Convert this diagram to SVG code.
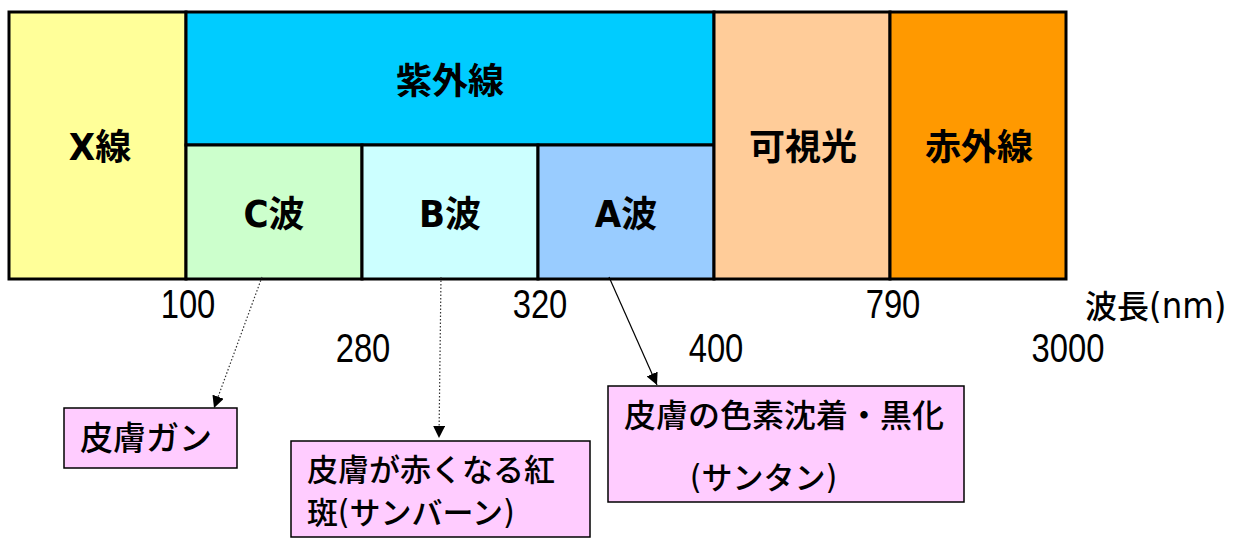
<svg xmlns="http://www.w3.org/2000/svg" width="1238" height="545" viewBox="0 0 1238 545">
<defs>
<style>
.cell{stroke:#000;stroke-width:3}
.lbl{font-family:'Noto Sans CJK JP',sans-serif;font-weight:bold;font-size:36px;text-anchor:middle;fill:#000}
.lat{font-family:'DejaVu Sans Condensed','Liberation Sans',sans-serif;font-size:38px}
.num{font-family:'Liberation Sans',sans-serif;font-size:40px;text-anchor:middle;fill:#000}
.box{fill:#FFCCFF;stroke:#000;stroke-width:1.5}
.btxt{font-family:'Noto Sans CJK JP',sans-serif;font-weight:500;font-size:31px;fill:#000}
.dot{stroke:#333;stroke-width:1.2;stroke-dasharray:1.5 2;fill:none}
.sol{stroke:#000;stroke-width:1.2;fill:none}
</style>
<marker id="ah" viewBox="0 0 10 10" refX="10" refY="5" markerWidth="12" markerHeight="12" markerUnits="userSpaceOnUse" orient="auto">
<path d="M0,0 L10,5 L0,10 z" fill="#000"/>
</marker>
</defs>
<rect width="1238" height="545" fill="#fff"/>
<g id="xray"><rect class="cell" x="9" y="12" width="177" height="267" fill="#FFFF99"/><text class="lbl" x="100" y="160"><tspan class="lat">X</tspan>線</text></g>
<g id="uv"><rect class="cell" x="186" y="12" width="528" height="133" fill="#00CCFF"/><text class="lbl" x="450" y="94">紫外線</text></g>
<g id="uvc"><rect class="cell" x="186" y="145" width="176" height="134" fill="#CCFFCC"/><text class="lbl" x="274" y="227"><tspan class="lat">C</tspan>波</text></g>
<g id="uvb"><rect class="cell" x="362" y="145" width="176" height="134" fill="#CCFFFF"/><text class="lbl" x="450" y="227"><tspan class="lat">B</tspan>波</text></g>
<g id="uva"><rect class="cell" x="538" y="145" width="176" height="134" fill="#99CCFF"/><text class="lbl" x="626" y="227"><tspan class="lat">A</tspan>波</text></g>
<g id="visible"><rect class="cell" x="714" y="12" width="176" height="267" fill="#FFCC99"/><text class="lbl" x="803" y="160">可視光</text></g>
<g id="ir"><rect class="cell" x="890" y="12" width="176" height="267" fill="#FF9900"/><text class="lbl" x="979" y="160">赤外線</text></g>
<g id="scale">
<text class="num" transform="translate(188,318) scale(0.82,1)">100</text>
<text class="num" transform="translate(363,362) scale(0.82,1)">280</text>
<text class="num" transform="translate(540,318) scale(0.82,1)">320</text>
<text class="num" transform="translate(716,362) scale(0.82,1)">400</text>
<text class="num" transform="translate(893,318) scale(0.82,1)">790</text>
<text class="num" transform="translate(1068,362) scale(0.82,1)">3000</text>
<text class="btxt" x="1085" y="318" style="font-size:32px">波長<tspan class="lat" style="font-size:36px">(nm)</tspan></text>
</g>
<g id="connectors">
<line class="dot" x1="262" y1="277" x2="214" y2="408" marker-end="url(#ah)"/>
<line class="dot" x1="441" y1="277" x2="439" y2="438" marker-end="url(#ah)"/>
<line class="sol" x1="609" y1="277" x2="657" y2="385" marker-end="url(#ah)"/>
</g>
<g id="cancer"><rect class="box" x="64" y="408" width="173" height="60"/><text class="btxt" x="80" y="450" style="font-size:33px">皮膚ガン</text></g>
<g id="sunburn"><rect class="box" x="291" y="441" width="299" height="96"/><text class="btxt" x="307" y="481" style="font-size:31px">皮膚が赤くなる紅</text><text class="btxt" x="307" y="524" style="font-size:31px">斑<tspan class="lat" style="font-size:33px">(</tspan>サンバーン<tspan class="lat" style="font-size:33px">)</tspan></text></g>
<g id="suntan"><rect class="box" x="608" y="386" width="356" height="116"/><text class="btxt" x="624" y="427" style="font-size:32px">皮膚の色素沈着・黒化</text><text class="btxt" x="690" y="489" style="font-size:31px"><tspan class="lat" style="font-size:33px">(</tspan>サンタン<tspan class="lat" style="font-size:33px">)</tspan></text></g>
</svg>
